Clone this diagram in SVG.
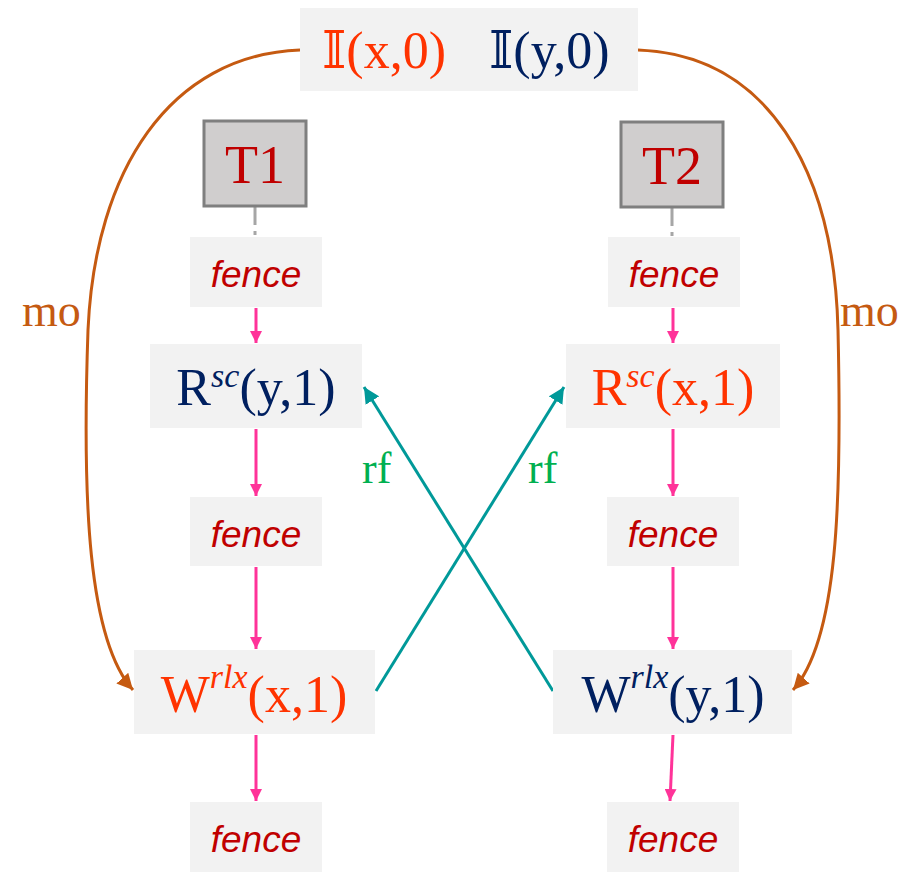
<svg xmlns="http://www.w3.org/2000/svg" width="907" height="872" viewBox="0 0 907 872">
<style>
.box{fill:#F2F2F2}
.tbox{fill:#D0CECE;stroke:#7F7F7F;stroke-width:3}
.serif{font-family:"Liberation Serif","DejaVu Serif",serif}
.lbl{font-size:52px}
.sup{font-size:34px;font-style:italic}
.fence{font-family:"Liberation Sans",Arial,sans-serif;font-style:italic;font-size:37px;fill:#C00000;text-anchor:middle}
.x{fill:#FF3300}
.y{fill:#002060}
.po{stroke:#FF3399;stroke-width:3;fill:none}
.rf{stroke:#009999;stroke-width:3;fill:none}
.mo{stroke:#C55A11;stroke-width:3;fill:none}
</style>
<defs>
<marker id="ap" markerWidth="12" markerHeight="12" refX="10" refY="5" orient="auto" markerUnits="userSpaceOnUse" viewBox="0 0 10 10"><path d="M0,0 L10,5 L0,10 z" fill="#FF3399"/></marker>
<marker id="at" markerWidth="16" markerHeight="16" refX="10" refY="5" orient="auto" markerUnits="userSpaceOnUse" viewBox="0 0 10 10"><path d="M0,0 L10,5 L0,10 z" fill="#009999"/></marker>
<marker id="ao" markerWidth="16" markerHeight="16" refX="10" refY="5" orient="auto" markerUnits="userSpaceOnUse" viewBox="0 0 10 10"><path d="M0,0 L10,5 L0,10 z" fill="#C55A11"/></marker>
</defs>

<g id="connectors">
<line x1="255" y1="207" x2="255" y2="237" stroke="#A6A6A6" stroke-width="3" stroke-dasharray="18,6,4,6"/>
<line x1="672" y1="208" x2="672" y2="237" stroke="#A6A6A6" stroke-width="3" stroke-dasharray="18,6,4,6"/>
<line class="po" x1="256" y1="308" x2="256" y2="343" marker-end="url(#ap)"/>
<line class="po" x1="256" y1="429" x2="256" y2="496" marker-end="url(#ap)"/>
<line class="po" x1="256" y1="567" x2="256" y2="649" marker-end="url(#ap)"/>
<line class="po" x1="256" y1="735" x2="256" y2="801" marker-end="url(#ap)"/>
<line class="po" x1="673" y1="308" x2="673" y2="343" marker-end="url(#ap)"/>
<line class="po" x1="673" y1="429" x2="673" y2="496" marker-end="url(#ap)"/>
<line class="po" x1="673" y1="567" x2="673" y2="649" marker-end="url(#ap)"/>
<line class="po" x1="673" y1="735" x2="670" y2="801" marker-end="url(#ap)"/>
<line class="rf" x1="376" y1="691" x2="564" y2="387" marker-end="url(#at)"/>
<line class="rf" x1="553" y1="691" x2="364" y2="387" marker-end="url(#at)"/>
<path class="mo" d="M300,50 C170,55 95,170 88,330 C82,500 88,640 133,690" marker-end="url(#ao)"/>
<path class="mo" d="M638,50 C768,55 834,170 838,330 C842,500 838,640 793,690" marker-end="url(#ao)"/>
<text class="serif" x="22" y="326" font-size="46" fill="#C55A11">mo</text>
<text class="serif" x="840" y="326" font-size="46" fill="#C55A11">mo</text>
<text class="serif" x="362" y="483" font-size="44" fill="#00B050">rf</text>
<text class="serif" x="528" y="483" font-size="44" fill="#00B050">rf</text>
</g>

<g id="init">
<rect class="box" x="300" y="8" width="338" height="83"/>
<text class="serif lbl" x="322" y="68"><tspan class="x">𝕀(x,0)</tspan></text>
<text class="serif lbl" x="489" y="68"><tspan class="y">𝕀(y,0)</tspan></text>
</g>

<g id="T1">
<rect class="tbox" x="204" y="121" width="102" height="85"/>
<text class="serif" x="255" y="183" font-size="54" fill="#C00000" text-anchor="middle">T1</text>
</g>
<g id="T2">
<rect class="tbox" x="621" y="122" width="102" height="85"/>
<text class="serif" x="672" y="184" font-size="54" fill="#C00000" text-anchor="middle">T2</text>
</g>

<g id="f1a"><rect class="box" x="190" y="237" width="132" height="70"/><text class="fence" x="256" y="287">fence</text></g>
<g id="f2a"><rect class="box" x="608" y="237" width="132" height="70"/><text class="fence" x="674" y="287">fence</text></g>

<g id="R1">
<rect class="box" x="150" y="344" width="212" height="84"/>
<text class="serif lbl y" x="256" y="405" text-anchor="middle">R<tspan class="sup" dy="-18">sc</tspan><tspan dy="18">(y,1)</tspan></text>
</g>
<g id="R2">
<rect class="box" x="566" y="344" width="214" height="84"/>
<text class="serif lbl x" x="673" y="405" text-anchor="middle">R<tspan class="sup" dy="-18">sc</tspan><tspan dy="18">(x,1)</tspan></text>
</g>

<g id="f1b"><rect class="box" x="190" y="497" width="132" height="69"/><text class="fence" x="256" y="547">fence</text></g>
<g id="f2b"><rect class="box" x="607" y="497" width="132" height="69"/><text class="fence" x="673" y="547">fence</text></g>

<g id="W1">
<rect class="box" x="134" y="650" width="241" height="84"/>
<text class="serif lbl x" x="254" y="712" text-anchor="middle">W<tspan class="sup" dy="-24">rlx</tspan><tspan dy="24">(x,1)</tspan></text>
</g>
<g id="W2">
<rect class="box" x="553" y="650" width="239" height="84"/>
<text class="serif lbl y" x="673" y="712" text-anchor="middle">W<tspan class="sup" dy="-24">rlx</tspan><tspan dy="24">(y,1)</tspan></text>
</g>

<g id="f1c"><rect class="box" x="190" y="802" width="132" height="70"/><text class="fence" x="256" y="852">fence</text></g>
<g id="f2c"><rect class="box" x="607" y="802" width="132" height="70"/><text class="fence" x="673" y="852">fence</text></g>
</svg>
